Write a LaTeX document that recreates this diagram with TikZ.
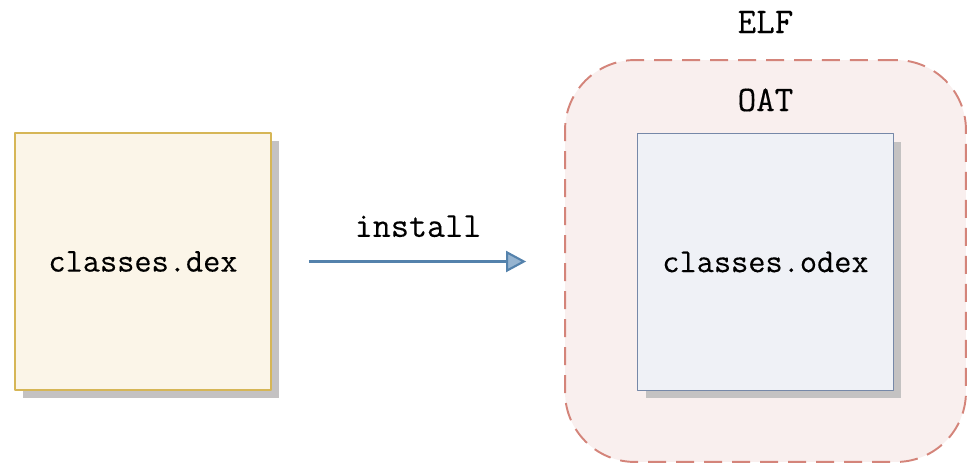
\documentclass[tikz,border=0pt]{standalone}
\usepackage{fontspec}
\setmonofont{Latin Modern Mono}[FakeBold=0.25]
\usetikzlibrary{shadows,arrows.meta,positioning}
\definecolor{dexfill}{RGB}{251,245,232}
\definecolor{dexline}{RGB}{214,182,86}
\definecolor{odexfill}{RGB}{239,241,246}
\definecolor{odexline}{RGB}{118,136,168}
\definecolor{elffill}{RGB}{249,239,238}
\definecolor{elfline}{RGB}{212,132,122}
\definecolor{arrowblue}{RGB}{84,130,172}
\definecolor{arrowlight}{RGB}{150,180,208}
\definecolor{shadowgray}{RGB}{196,194,194}
\tikzset{
 filebox/.style={draw, line width=1.1pt, minimum width=5.12cm, minimum height=5.14cm,
  drop shadow={shadow xshift=0.16cm, shadow yshift=-0.16cm, fill=shadowgray, opacity=1}},
 elfbox/.style={draw=elfline, fill=elffill, line width=1.1pt, rounded corners=1.4cm,
  dash pattern=on 0.36cm off 0.2cm, minimum width=8.02cm, minimum height=8.04cm},
 boxtitle/.style={font=\ttfamily\fontsize{20.5}{24}\selectfont}
}
\begin{document}
\begin{tikzpicture}[x=0.02cm, y=-0.02cm, font=\ttfamily\fontsize{19}{22}\selectfont, line join=round]
 \useasboundingbox (0,0) rectangle (968,463);
 % container
 \node (elf) [elfbox] at (765.5,261) {};
 \node (elftitle) [boxtitle] at (765.5,22) {ELF};
 \node (oattitle) [boxtitle] at (765.5,100) {OAT};
 % files
 \node (dex) [filebox, draw=dexline, fill=dexfill] at (143,261.5) {classes.dex};
 \node (odex) [filebox, draw=odexline, fill=odexfill] at (765.5,262) {classes.odex};
 % install step
 \draw[arrowblue, line width=1.8pt, shorten <=0.74cm, shorten >=0.76cm,
  -{Triangle[length=0.4cm, width=0.42cm, fill=arrowlight, line width=1.2pt]}]
  (dex) -- (dex -| elf.west) node[midway, above=0.34cm, black, font=\ttfamily\fontsize{20}{24}\selectfont] (lbl) {install};
\end{tikzpicture}
\end{document}
